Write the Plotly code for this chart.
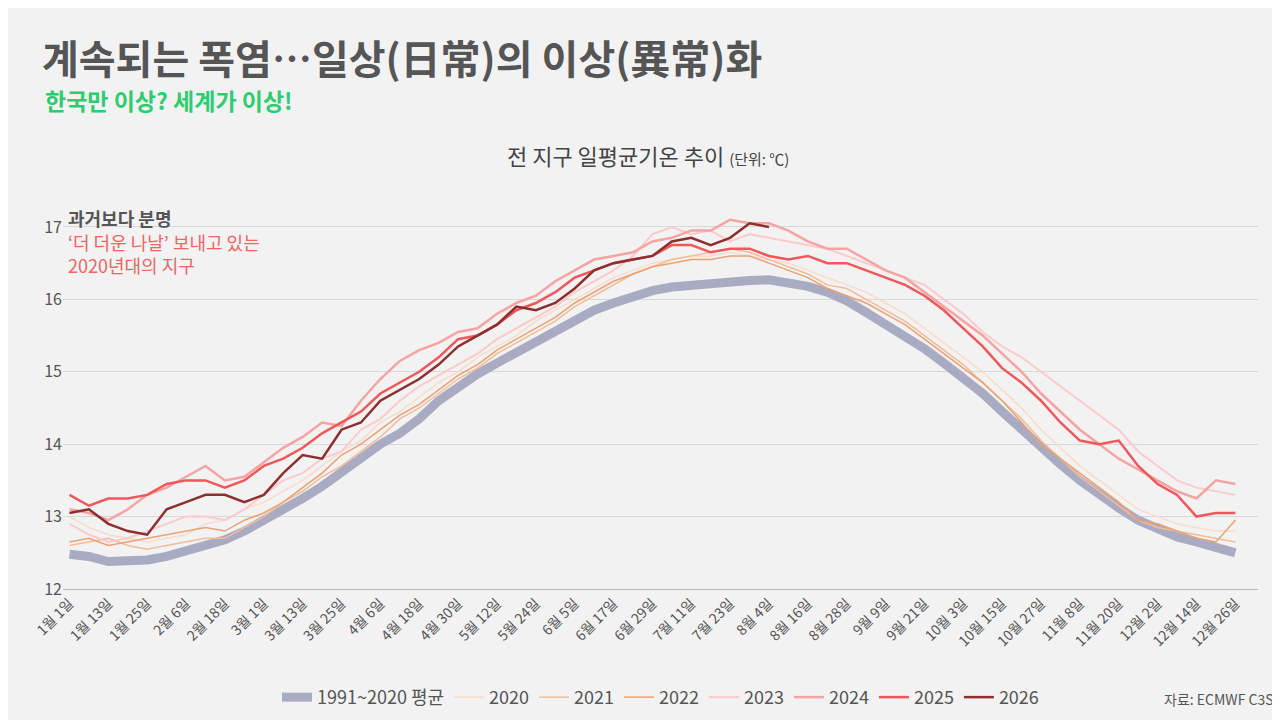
import plotly.graph_objects as go

month_days = [31, 29, 31, 30, 31, 30, 31, 31, 30, 31, 30, 31]
day_labels = [f"{m+1}월 {d+1}일" for m in range(12) for d in range(month_days[m])]
tick_idx = list(range(0, 366, 12))
tick_text = [day_labels[i] for i in tick_idx]
sample_days = list(range(0, 361, 6))

avg = [12.48,12.45,12.38,12.38,12.40,12.45,12.53,12.6,12.68,12.8,12.95,13.08,13.25,13.42,13.62,13.82,14.0,14.15,14.35,14.6,14.8,14.97,15.12,15.27,15.42,15.58,15.72,15.85,15.95,16.05,16.12,16.17,16.2,16.22,16.24,16.26,16.27,16.24,16.18,16.1,15.98,15.82,15.65,15.5,15.32,15.12,14.92,14.7,14.45,14.2,13.95,13.72,13.5,13.3,13.12,12.95,12.82,12.72,12.65,12.58,12.5]
y2020 = [13.0,12.85,12.75,12.7,12.65,12.7,12.75,12.9,12.95,13.1,13.2,13.35,13.5,13.7,13.9,14.05,14.3,14.45,14.65,14.85,15.0,15.2,15.35,15.5,15.7,15.85,16.0,16.15,16.3,16.4,16.5,16.55,16.6,16.6,16.65,16.6,16.55,16.5,16.4,16.3,16.2,16.1,15.95,15.8,15.6,15.4,15.2,15.0,14.75,14.5,14.2,13.95,13.7,13.5,13.3,13.1,13.0,12.9,12.85,12.8,12.8]
y2021 = [12.6,12.65,12.7,12.6,12.55,12.6,12.65,12.7,12.7,12.85,13.0,13.2,13.35,13.55,13.7,13.9,14.1,14.35,14.5,14.7,14.9,15.05,15.25,15.4,15.55,15.7,15.9,16.05,16.2,16.35,16.45,16.55,16.6,16.65,16.7,16.65,16.55,16.45,16.35,16.2,16.15,16.0,15.85,15.7,15.5,15.3,15.1,14.85,14.6,14.35,14.05,13.8,13.55,13.35,13.15,12.95,12.85,12.8,12.75,12.7,12.65]
y2022 = [12.65,12.7,12.6,12.65,12.7,12.75,12.8,12.85,12.8,12.95,13.05,13.2,13.4,13.6,13.85,14.0,14.2,14.4,14.55,14.75,14.95,15.1,15.3,15.45,15.6,15.75,15.95,16.1,16.25,16.35,16.45,16.5,16.55,16.55,16.6,16.6,16.5,16.4,16.3,16.15,16.05,15.95,15.8,15.65,15.45,15.25,15.05,14.85,14.6,14.3,14.0,13.8,13.6,13.4,13.2,12.95,12.9,12.8,12.7,12.65,12.95]
y2023 = [12.9,12.75,12.65,12.7,12.8,12.9,13.0,13.0,12.95,13.1,13.3,13.5,13.6,13.8,13.9,14.2,14.35,14.6,14.8,14.95,15.1,15.25,15.45,15.6,15.75,15.9,16.1,16.25,16.4,16.6,16.9,17.0,16.9,16.95,16.8,16.9,16.85,16.8,16.75,16.7,16.6,16.5,16.4,16.3,16.2,16.0,15.8,15.55,15.35,15.2,15.0,14.8,14.6,14.4,14.2,13.9,13.7,13.5,13.4,13.35,13.3]
y2024 = [13.1,13.05,12.95,13.1,13.3,13.4,13.55,13.7,13.5,13.55,13.75,13.95,14.1,14.3,14.25,14.6,14.9,15.15,15.3,15.4,15.55,15.6,15.8,15.95,16.05,16.25,16.4,16.55,16.6,16.65,16.8,16.85,16.95,16.95,17.1,17.05,17.05,16.95,16.8,16.7,16.7,16.55,16.4,16.3,16.1,15.9,15.7,15.5,15.25,15.0,14.7,14.45,14.2,14.0,13.8,13.65,13.5,13.35,13.25,13.5,13.45]
y2025 = [13.3,13.15,13.25,13.25,13.3,13.45,13.5,13.5,13.4,13.5,13.7,13.8,13.95,14.15,14.3,14.45,14.7,14.85,15.0,15.2,15.45,15.5,15.65,15.85,15.95,16.1,16.3,16.4,16.5,16.55,16.6,16.75,16.75,16.65,16.7,16.7,16.6,16.55,16.6,16.5,16.5,16.4,16.3,16.2,16.05,15.85,15.6,15.35,15.05,14.85,14.6,14.3,14.05,14.0,14.05,13.7,13.45,13.3,13.0,13.05,13.05]
y2026 = [13.05,13.1,12.9,12.8,12.75,13.1,13.2,13.3,13.3,13.2,13.3,13.6,13.85,13.8,14.2,14.3,14.6,14.75,14.9,15.1,15.35,15.5,15.65,15.9,15.85,15.95,16.15,16.4,16.5,16.55,16.6,16.8,16.85,16.75,16.85,17.05,17.0]

series = [
    ("1991~2020 평균", avg, "#a9abc2", 9),
    ("2020", y2020, "#f8dccb", 1.5),
    ("2021", y2021, "#f2bc98", 1.5),
    ("2022", y2022, "#eba173", 1.5),
    ("2023", y2023, "#fbcaca", 2),
    ("2024", y2024, "#f5a3a3", 2.5),
    ("2025", y2025, "#f0575a", 2.5),
    ("2026", y2026, "#8e2f2f", 2.5),
]

fig = go.Figure()
for name, vals, color, w in series:
    fig.add_trace(go.Scatter(x=sample_days[:len(vals)], y=vals, mode="lines", name=name,
                             line=dict(color=color, width=w)))

font = "Noto Sans CJK KR"
L, R, T, B = 55, 30, 190, 130
fig.update_layout(
    width=1280, height=720, paper_bgcolor="#f2f2f2", plot_bgcolor="#f2f2f2",
    margin=dict(l=L, r=R, t=T, b=B),
    font=dict(family=font, color="#555", size=14),
    xaxis=dict(range=[-2, 367], tickvals=tick_idx, ticktext=tick_text, tickangle=-45,
               showgrid=False, zeroline=False, tickfont=dict(size=14, color="#555"),
               showline=True, linecolor="#bbb", automargin=False),
    yaxis=dict(range=[12, 17.4], tickvals=[12, 13, 14, 15, 16, 17], gridcolor="#d8d8d8",
               zeroline=False, tickfont=dict(size=16, color="#555"), automargin=False),
    legend=dict(orientation="h", x=0.5, xanchor="center", y=-0.23, yanchor="top",
                font=dict(size=18, color="#555"), bgcolor="rgba(0,0,0,0)"),
    showlegend=True,
)

def px(x, y):
    return (x - L) / (1280 - L - R), (720 - y - B) / (720 - T - B)

texts = [
    (32, 46, "<b>계속되는 폭염…일상(日常)의 이상(異常)화</b>", 40, "#555", "left"),
    (35, 90, "<b>한국만 이상? 세계가 이상!</b>", 23, "#2ecc71", "left"),
    (58, 210, "<b>과거보다 분명</b>", 18, "#555", "left"),
    (58, 235, "‘더 더운 나날’ 보내고 있는", 18, "#f06464", "left"),
    (58, 259, "2020년대의 지구", 18, "#f06464", "left"),
    (640, 146, "전 지구 일평균기온 추이 <span style='font-size:15px'>(단위: ℃)</span>", 22, "#444", "center"),
    (1268, 703, "자료: ECMWF C3S", 14, "#555", "right"),
]
for x, y, t, s, c, anc in texts:
    xp, yp = px(x, y)
    fig.add_annotation(x=xp, y=yp, xref="paper", yref="paper", text=t, showarrow=False,
                       xanchor=anc, yanchor="middle", font=dict(size=s, color=c, family=font))
fig.write_html("out.html")
